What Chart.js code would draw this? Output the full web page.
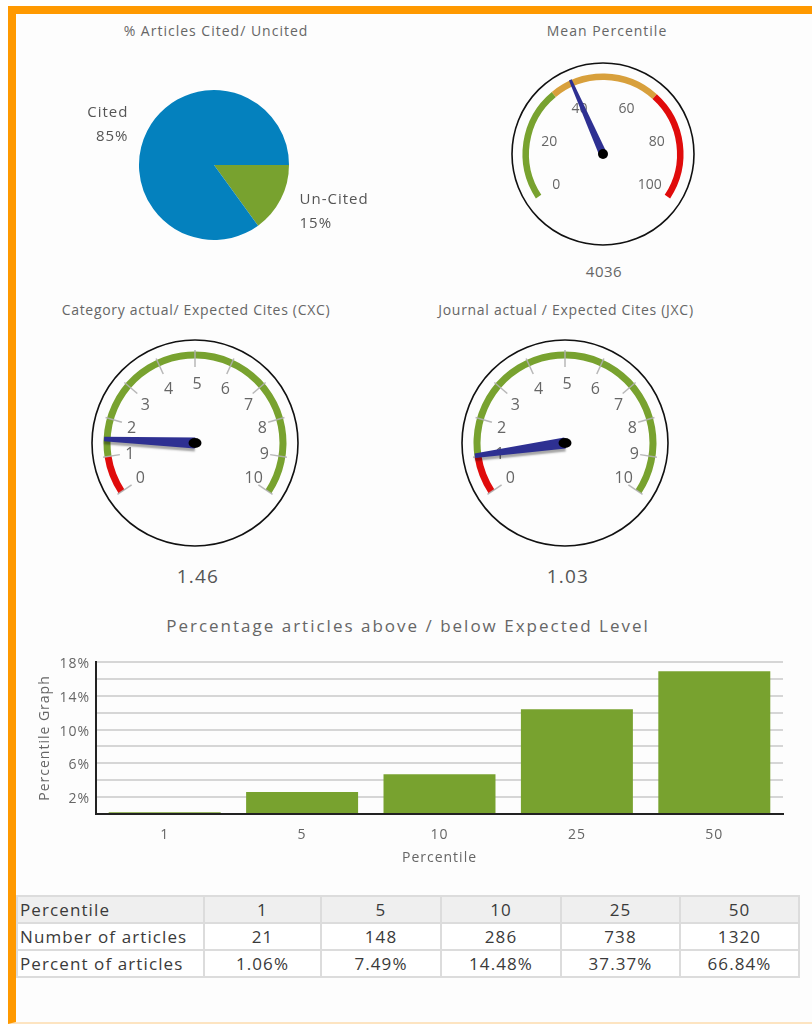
<!DOCTYPE html>
<html><head><meta charset="utf-8">
<script src="https://cdn.jsdelivr.net/npm/chart.js@4.4.0/dist/chart.umd.min.js"></script>
<style>
html,body{margin:0;padding:0;background:#fff;}
body{width:812px;height:1024px;position:relative;overflow:hidden;font-family:"Open Sans",sans-serif;}
#frame{position:absolute;left:8px;top:6px;width:830px;height:1018px;border-top:8px solid #ff9900;border-left:8px solid #ff9900;border-bottom:2px solid #fde4c1;background:#fdfdfd;box-sizing:border-box;}
.t{position:absolute;color:#666;font-size:14px;white-space:nowrap;transform:translate(-50%,-50%);line-height:1;}
canvas{position:absolute;}
#tbl{position:absolute;left:16px;top:895px;width:782px;border-collapse:collapse;table-layout:fixed;font-size:17px;letter-spacing:1.1px;color:#3a3a3a;}
#tbl td{border:2px solid #dcdcdc;padding:0 2px;height:25px;line-height:25px;text-align:center;white-space:nowrap;overflow:hidden;}
#tbl td:first-child{text-align:left;}
#tbl tr.h td{background:#efefef;}
#tbl tr.r td{background:#fff;}
</style>
</head><body>
<div id="frame"></div>

<div class="t" style="left:216px;top:31px;letter-spacing:1px;">% Articles Cited/ Uncited</div>
<div class="t" style="left:607px;top:31px;letter-spacing:1px;">Mean Percentile</div>
<div class="t" id="meanVal" style="left:604px;top:271px;font-size:15px;letter-spacing:0.5px;"></div>
<div class="t" style="left:196px;top:310px;letter-spacing:0.7px;">Category actual/ Expected Cites (CXC)</div>
<div class="t" style="left:566px;top:310px;letter-spacing:0.7px;">Journal actual / Expected Cites (JXC)</div>
<div class="t" id="cxcVal" style="left:198px;top:576px;font-size:19px;letter-spacing:1.2px;color:#555;"></div>
<div class="t" id="jxcVal" style="left:568px;top:576px;font-size:19px;letter-spacing:1.2px;color:#555;"></div>
<div class="t" id="barTitle" style="left:408px;top:625px;font-size:17px;letter-spacing:2px;"></div>

<canvas id="pie" width="340" height="200" style="left:44px;top:65px;width:340px;height:200px;"></canvas>
<canvas id="gMean" width="200" height="200" style="left:503px;top:54px;width:200px;height:200px;"></canvas>
<canvas id="gCxc" width="220" height="220" style="left:85px;top:333px;width:220px;height:220px;"></canvas>
<canvas id="gJxc" width="220" height="220" style="left:455px;top:333px;width:220px;height:220px;"></canvas>
<canvas id="bar" width="780" height="265" style="left:20px;top:605px;width:780px;height:265px;"></canvas>

<table id="tbl">
<colgroup><col style="width:187px"><col style="width:117px"><col style="width:120px"><col style="width:120px"><col style="width:119px"><col style="width:119px"></colgroup>
<tbody id="tbody"></tbody>
</table>

<script>
// ---------------- DATA ----------------
const pieLabels = ['Un-Cited', 'Cited'];
const pieValues = [15, 85];

const meanPercentile = 40.36;
const meanLabel = '4036';
const meanTicks = [0, 20, 40, 60, 80, 100];
const meanBandLimits = [0, 34, 67, 100];

const cxcValue = 1.46;
const jxcValue = 1.03;
const ratioTicks = [0, 1, 2, 3, 4, 5, 6, 7, 8, 9, 10];
const ratioBandLimits = [0, 1, 10];

const barTitle = 'Percentage articles above / below Expected Level';
const barCategories = ['1', '5', '10', '25', '50'];
const barValues = [0.2, 2.6, 4.7, 12.4, 16.9];
const yTickLabels = [2, 6, 10, 14, 18];

const tablePercentiles = ['1', '5', '10', '25', '50'];
const tableCounts = ['21', '148', '286', '738', '1320'];
const tablePercents = ['1.06%', '7.49%', '14.48%', '37.37%', '66.84%'];

// ---------------- STYLE ----------------
const FONT = '"Open Sans", sans-serif';
Chart.defaults.font.family = FONT;
Chart.defaults.color = '#666';
const GREEN = '#78a22f', BLUE = '#0481be', GOLD = '#d8a03c', RED = '#e00b0b', NEEDLE = '#2e3092';
const START = 146.5, SWEEP = 247;

const spacingPlugin = (ls) => ({
  id: 'spacing',
  beforeDraw(chart) { chart.ctx.letterSpacing = ls; }
});

// ---------------- PIE ----------------
const pieLabelPlugin = {
  id: 'pieLabels',
  afterDatasetsDraw(chart) {
    const meta = chart.getDatasetMeta(0);
    const ctx = chart.ctx;
    ctx.save();
    ctx.letterSpacing = '1px';
    ctx.font = '15px ' + FONT;
    ctx.fillStyle = '#555';
    ctx.textBaseline = 'middle';
    meta.data.forEach((arc, i) => {
      const mid = (arc.startAngle + arc.endAngle) / 2;
      const r = arc.outerRadius + 21;
      const x = arc.x + Math.cos(mid) * r, y = arc.y + Math.sin(mid) * r + 3;
      ctx.textAlign = Math.cos(mid) < 0 ? 'right' : 'left';
      ctx.fillText(pieLabels[i], x, y - 12);
      ctx.fillText(pieValues[i] + '%', x, y + 12);
    });
    ctx.restore();
  }
};
new Chart(document.getElementById('pie'), {
  type: 'pie',
  data: { labels: pieLabels, datasets: [{ data: pieValues, backgroundColor: [GREEN, BLUE], borderWidth: 0, hoverOffset: 0 }] },
  options: { responsive: false, animation: false, rotation: 90, radius: 75, events: [],
    plugins: { legend: { display: false }, tooltip: { enabled: false } } },
  plugins: [pieLabelPlugin]
});

// ---------------- GAUGES ----------------
function gaugePlugin(cfg) {
  return {
    id: 'gauge',
    afterDatasetsDraw(chart) {
      const meta = chart.getDatasetMeta(0);
      const first = meta.data[0];
      const last = meta.data[cfg.limits.length - 2];
      const cx = first.x, cy = first.y;
      const a0 = first.startAngle, a1 = last.endAngle;
      const lo = cfg.limits[0], hi = cfg.limits[cfg.limits.length - 1];
      const ang = v => a0 + (v - lo) / (hi - lo) * (a1 - a0);
      const ctx = chart.ctx;
      ctx.save();
      ctx.beginPath();
      ctx.arc(cx, cy, cfg.ring, 0, Math.PI * 2);
      ctx.lineWidth = 1.6;
      ctx.strokeStyle = '#111';
      ctx.stroke();
      if (cfg.tickMarks) {
        ctx.strokeStyle = 'rgba(175,175,175,0.9)';
        ctx.lineWidth = 1.5;
        cfg.ticks.forEach(t => {
          const a = ang(t);
          ctx.beginPath();
          ctx.moveTo(cx + Math.cos(a) * cfg.tickMarks[0], cy + Math.sin(a) * cfg.tickMarks[0]);
          ctx.lineTo(cx + Math.cos(a) * cfg.tickMarks[1], cy + Math.sin(a) * cfg.tickMarks[1]);
          ctx.stroke();
        });
      }
      ctx.fillStyle = '#666';
      ctx.font = cfg.labelFont + 'px ' + FONT;
      ctx.textAlign = 'center';
      ctx.textBaseline = 'middle';
      cfg.ticks.forEach(t => {
        const a = ang(t);
        ctx.fillText(String(t), cx + Math.cos(a) * cfg.labelR[0] + cfg.labelShift[0], cy + Math.sin(a) * cfg.labelR[1] + cfg.labelShift[1]);
      });
      const a = ang(cfg.value);
      const dx = Math.cos(a), dy = Math.sin(a), nx = -dy, ny = dx;
      const L = cfg.needle[0], bw = cfg.needle[1], tw = cfg.needle[2];
      if (cfg.shadow) {
        ctx.shadowColor = 'rgba(0,0,0,0.35)';
        ctx.shadowOffsetY = 3;
        ctx.shadowBlur = 2;
      }
      ctx.fillStyle = NEEDLE;
      ctx.beginPath();
      ctx.moveTo(cx + nx * bw, cy + ny * bw);
      ctx.lineTo(cx + dx * L + nx * tw, cy + dy * L + ny * tw);
      ctx.lineTo(cx + dx * L - nx * tw, cy + dy * L - ny * tw);
      ctx.lineTo(cx - nx * bw, cy - ny * bw);
      ctx.closePath();
      ctx.fill();
      ctx.shadowColor = 'rgba(0,0,0,0)';
      ctx.fillStyle = '#000';
      ctx.beginPath();
      ctx.ellipse(cx, cy, cfg.pivot[0], cfg.pivot[1], 0, 0, Math.PI * 2);
      ctx.fill();
      ctx.restore();
    }
  };
}
function makeGauge(id, cfg) {
  const widths = cfg.limits.slice(1).map((v, i) => v - cfg.limits[i]);
  const total = cfg.limits[cfg.limits.length - 1] - cfg.limits[0];
  const gap = total * (360 - SWEEP) / SWEEP;
  new Chart(document.getElementById(id), {
    type: 'doughnut',
    data: { labels: widths.map((_, i) => 'band' + i).concat(['gap']),
      datasets: [{ data: widths.concat([gap]), backgroundColor: cfg.colors.concat(['rgba(0,0,0,0)']), borderWidth: 0, hoverOffset: 0 }] },
    options: { responsive: false, animation: false, events: [], rotation: START + 90, circumference: 360,
      radius: cfg.outer, cutout: (cfg.inner / cfg.outer * 100) + '%',
      plugins: { legend: { display: false }, tooltip: { enabled: false } } },
    plugins: [gaugePlugin(cfg)]
  });
}
makeGauge('gMean', { limits: meanBandLimits, colors: [GREEN, GOLD, RED], ticks: meanTicks, value: meanPercentile,
  outer: 80.5, inner: 74, ring: 91, labelFont: 14, labelR: [56, 52], labelShift: [0, 2], tickMarks: null,
  needle: [81, 4, 1.5], pivot: [5, 5], shadow: false });
const ratioCfg = { limits: ratioBandLimits, colors: [RED, GREEN], ticks: ratioTicks,
  outer: 91.5, inner: 84.5, ring: 103, labelFont: 16, labelR: [68, 61], labelShift: [2, 2], tickMarks: [76, 93],
  needle: [91, 5.5, 2.3], pivot: [6.5, 5], shadow: true };
makeGauge('gCxc', Object.assign({}, ratioCfg, { value: cxcValue }));
makeGauge('gJxc', Object.assign({}, ratioCfg, { value: jxcValue }));
document.getElementById('meanVal').textContent = meanLabel;
document.getElementById('cxcVal').textContent = cxcValue.toFixed(2);
document.getElementById('jxcVal').textContent = jxcValue.toFixed(2);
document.getElementById('barTitle').textContent = barTitle;

// ---------------- BAR ----------------
new Chart(document.getElementById('bar'), {
  type: 'bar',
  data: { labels: barCategories, datasets: [{ data: barValues, backgroundColor: GREEN, borderWidth: 0, barPercentage: 0.815, categoryPercentage: 1 }] },
  options: {
    responsive: false, animation: false, events: [],
    layout: { padding: { top: 57, left: 10, right: 17, bottom: 4 } },
    plugins: { legend: { display: false }, tooltip: { enabled: false }, title: { display: false } },
    scales: {
      x: {
        grid: { display: false, drawTicks: false },
        border: { color: '#222', width: 2 },
        ticks: { color: '#666', font: { size: 14 }, padding: 13 },
        title: { display: true, text: 'Percentile', color: '#666', font: { size: 14 }, padding: { top: 0, bottom: 0 } },
        afterFit(s) { s.height = 52; }
      },
      y: {
        min: 0, max: 18,
        ticks: { stepSize: 2, autoSkip: false, color: '#666', font: { size: 14 }, padding: 6, labelOffset: 2,
          callback: v => yTickLabels.includes(v) ? v + '%' : '' },
        grid: { color: '#d6d6d6', lineWidth: 2, drawTicks: false },
        border: { color: '#222', width: 2 },
        title: { display: true, text: 'Percentile Graph', color: '#666', font: { size: 14 }, padding: { top: 6.6, bottom: 0 } },
        afterFit(s) { s.width = 66; }
      }
    }
  },
  plugins: [spacingPlugin('1px')]
});

// ---------------- TABLE ----------------
const rows = [['Percentile'].concat(tablePercentiles), ['Number of articles'].concat(tableCounts), ['Percent of articles'].concat(tablePercents)];
const tb = document.getElementById('tbody');
rows.forEach((r, i) => {
  const tr = document.createElement('tr');
  tr.className = i === 0 ? 'h' : 'r';
  r.forEach(c => { const td = document.createElement('td'); td.textContent = c; tr.appendChild(td); });
  tb.appendChild(tr);
});
</script>
</body></html>
